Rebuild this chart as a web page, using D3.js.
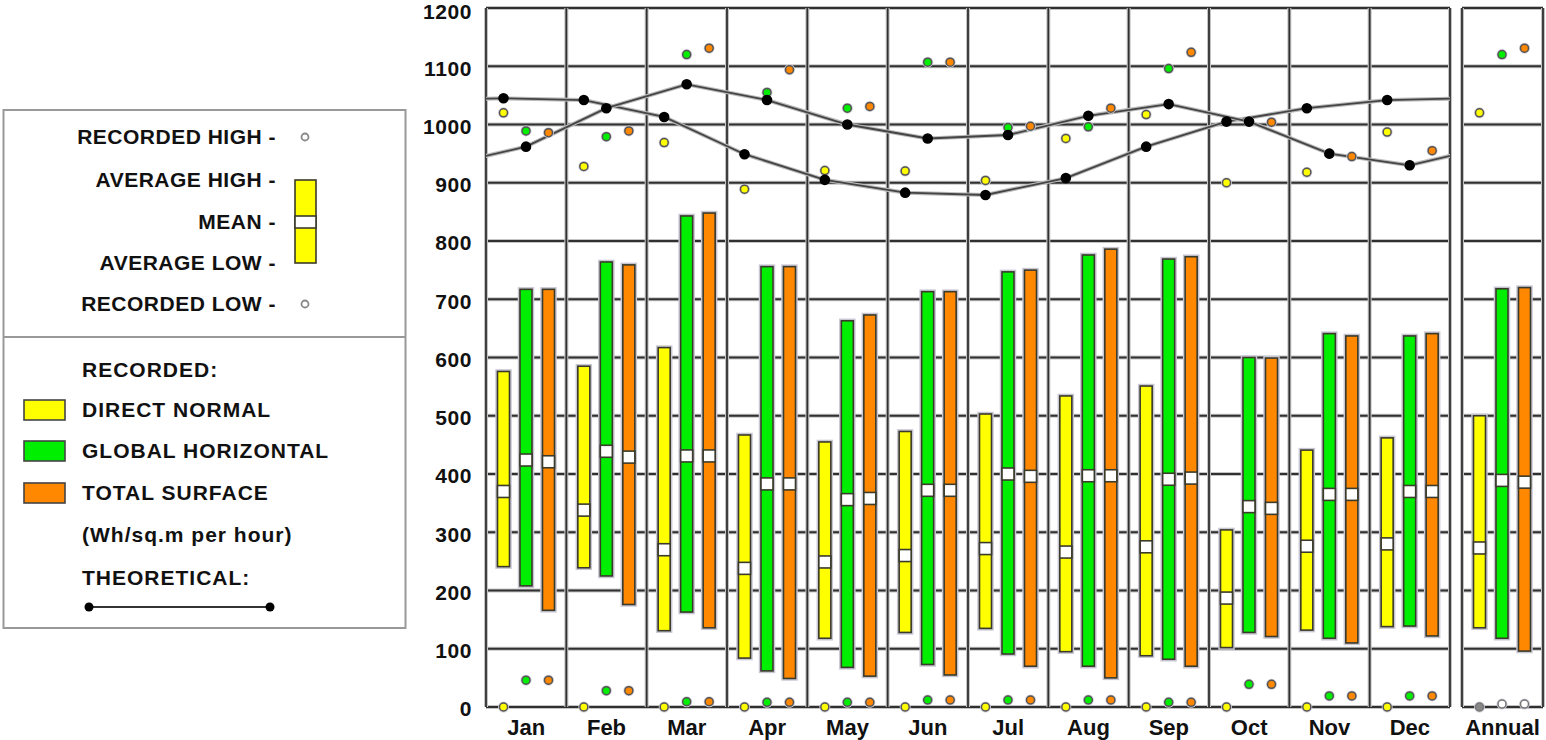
<!DOCTYPE html>
<html>
<head>
<meta charset="utf-8">
<script src="https://cdn.jsdelivr.net/npm/d3@7"></script>
<style>
  html, body { margin: 0; padding: 0; background: #fff; }
  svg { display: block; font-family: "Liberation Sans", Arial, sans-serif; font-weight: bold; }
</style>
</head>
<body>
<svg id="chart" width="1546" height="740"></svg>
<script>
// ---------- DATA ----------
const months = ["Jan","Feb","Mar","Apr","May","Jun","Jul","Aug","Sep","Oct","Nov","Dec"];
const seriesKeys = ["dn","gh","ts"];
const yTicks = [0,100,200,300,400,500,600,700,800,900,1000,1100,1200];

// Direct normal
const dnRecHigh = [1020, 928, 969, 889, 921, 920, 904, 976, 1017, 900, 918, 987];
const dnAvgHigh = [576, 585, 617, 467, 455, 473, 503, 534, 551, 304, 441, 462];
const dnMean    = [370, 338, 270, 238, 249, 260, 272, 266, 275, 187, 276, 280];
const dnAvgLow  = [241, 239, 131, 84, 118, 128, 135, 95, 88, 102, 132, 138];
const dnRecLow  = [0, 0, 0, 0, 0, 0, 0, 0, 0, 0, 0, 0];
const dnTheory  = [1045, 1042, 1013, 949, 905, 883, 879, 908, 962, 1005, 1028, 1042];
// Global horizontal
const ghRecHigh = [989, 979, 1120, 1055, 1028, 1107, 995, 996, 1096, 1005, 950, 930];
const ghAvgHigh = [717, 764, 843, 756, 663, 713, 747, 776, 769, 600, 641, 637];
const ghMean    = [424, 439, 431, 383, 356, 372, 400, 397, 391, 344, 365, 370];
const ghAvgLow  = [208, 225, 163, 62, 68, 73, 91, 70, 82, 128, 118, 139];
const ghRecLow  = [46, 28, 9, 8, 8, 12, 12, 12, 8, 39, 19, 19];
const ghTheory  = [962, 1028, 1069, 1042, 1000, 976, 982, 1015, 1035, 1005, 950, 930];
// Total surface
const tsRecHigh = [986, 989, 1131, 1094, 1031, 1107, 997, 1028, 1124, 1004, 945, 955];
const tsAvgHigh = [717, 759, 848, 756, 673, 713, 750, 786, 773, 599, 637, 641];
const tsMean    = [421, 429, 431, 383, 358, 372, 396, 397, 393, 341, 365, 370];
const tsAvgLow  = [166, 176, 136, 49, 53, 55, 70, 50, 70, 121, 110, 122];
const tsRecLow  = [46, 28, 9, 8, 8, 12, 12, 12, 8, 39, 19, 19];
// Annual (dn, gh, ts)
const annualRecHigh = [1020, 1120, 1131];
const annualAvgHigh = [500, 718, 720];
const annualMean    = [273, 389, 386];
const annualAvgLow  = [136, 118, 96];
const annualRecLow  = [0, 5, 5];

const colors = { dn: "#ffff00", gh: "#00ee00", ts: "#ff8800" };

// ---------- BUILD ----------
const svg = d3.select("#chart");
const y = d3.scaleLinear().domain([0, 1200]).range([707, 8]);
const xMonth = d3.scaleBand().domain(months).range([486, 1450]);
const xAnnual = d3.scaleBand().domain(["Annual"]).range([1462, 1543]);
const bw = xMonth.bandwidth();
const xSub = d3.scalePoint().domain(seriesKeys).range([17.5, 62.5]);

const monthly = {
  dn: { hi: dnRecHigh, ah: dnAvgHigh, mean: dnMean, al: dnAvgLow, lo: dnRecLow },
  gh: { hi: ghRecHigh, ah: ghAvgHigh, mean: ghMean, al: ghAvgLow, lo: ghRecLow },
  ts: { hi: tsRecHigh, ah: tsAvgHigh, mean: tsMean, al: tsAvgLow, lo: tsRecLow }
};

const recs = [];
seriesKeys.forEach(s => {
  months.forEach((m, i) => {
    recs.push({ s, cx: xMonth(m) + xSub(s), hi: monthly[s].hi[i], ah: monthly[s].ah[i],
      mean: monthly[s].mean[i], al: monthly[s].al[i], lo: monthly[s].lo[i], annual: false });
  });
});
seriesKeys.forEach((s, k) => {
  recs.push({ s, cx: xAnnual("Annual") + xSub(s), hi: annualRecHigh[k], ah: annualAvgHigh[k],
    mean: annualMean[k], al: annualAvgLow[k], lo: annualRecLow[k], annual: true });
});

// ---------- GRID ----------
const grid = svg.append("g");
function hgrid(x0, x1) {
  const g = grid.append("g");
  g.selectAll("line.h").data(yTicks).join("line")
    .attr("x1", x0).attr("x2", x1).attr("y1", d => y(d)).attr("y2", d => y(d))
    .attr("stroke", "#c4c4c4").attr("stroke-width", 4);
  g.selectAll("line.hh").data(yTicks).join("line")
    .attr("x1", x0).attr("x2", x1).attr("y1", d => y(d)).attr("y2", d => y(d))
    .attr("stroke", "#303030").attr("stroke-width", 1.8);
}
hgrid(486, 1450);
hgrid(1462, 1543);
const vlines = months.map(m => xMonth(m)).concat([1450, 1462, 1543]);
grid.selectAll("line.vh").data(vlines).join("line")
  .attr("x1", d => d).attr("x2", d => d).attr("y1", y(1200)).attr("y2", y(0))
  .attr("stroke", "#c4c4c4").attr("stroke-width", 4);
grid.selectAll("line.v").data(vlines).join("line")
  .attr("x1", d => d).attr("x2", d => d).attr("y1", y(1200)).attr("y2", y(0))
  .attr("stroke", "#303030").attr("stroke-width", 1.8);

// y labels
svg.append("g").selectAll("text").data(yTicks).join("text")
  .attr("x", 472).attr("y", d => Math.max(y(d) + 2, 12)).attr("dy", "0.35em")
  .attr("text-anchor", "end").attr("font-size", 21).attr("letter-spacing", 0.6).attr("fill", "#111")
  .text(d => d);

// month labels
svg.append("g").selectAll("text").data(months.concat(["Annual"])).join("text")
  .attr("x", d => d === "Annual" ? xAnnual(d) + xAnnual.bandwidth() / 2 : xMonth(d) + bw / 2)
  .attr("y", 735).attr("text-anchor", "middle").attr("font-size", 22).attr("fill", "#111")
  .text(d => d);

// ---------- BARS ----------
const barW = 12;
const bars = svg.append("g");
bars.selectAll("rect.halo").data(recs).join("rect")
  .attr("x", d => d.cx - barW / 2).attr("width", barW)
  .attr("y", d => y(d.ah)).attr("height", d => y(d.al) - y(d.ah))
  .attr("fill", "none").attr("stroke", "#c9c6d4").attr("stroke-width", 4.5);
bars.selectAll("rect.bar").data(recs).join("rect")
  .attr("x", d => d.cx - barW / 2).attr("width", barW)
  .attr("y", d => y(d.ah)).attr("height", d => y(d.al) - y(d.ah))
  .attr("fill", d => colors[d.s]).attr("stroke", "#3a3a2a").attr("stroke-width", 1.6);
bars.selectAll("rect.mean").data(recs).join("rect")
  .attr("x", d => d.cx - barW / 2).attr("width", barW)
  .attr("y", d => y(d.mean) - 6).attr("height", 12)
  .attr("fill", "#fff").attr("stroke", "#3a3a2a").attr("stroke-width", 1.6);

// ---------- THEORETICAL LINES ----------
svg.append("clipPath").attr("id", "plotclip").append("rect")
  .attr("x", 486).attr("y", 0).attr("width", 1450 - 486).attr("height", 740);
const theory = { dn: dnTheory, gh: ghTheory };
const line = d3.line().x(d => d[0]).y(d => d[1]);
const tg = svg.append("g").attr("clip-path", "url(#plotclip)");
Object.keys(theory).forEach(s => {
  const vals = theory[s];
  const pts = months.map((m, i) => [xMonth(m) + xSub(s), y(vals[i])]);
  const full = [[xMonth("Jan") + xSub(s) - bw, y(vals[11])]].concat(pts)
    .concat([[xMonth("Dec") + xSub(s) + bw, y(vals[0])]]);
  tg.append("path").attr("d", line(full)).attr("fill", "none")
    .attr("stroke", "#bbbbbb").attr("stroke-width", 4);
  tg.append("path").attr("d", line(full)).attr("fill", "none")
    .attr("stroke", "#444").attr("stroke-width", 1.8);
});

// ---------- RECORDED DOTS ----------
const dots = svg.append("g");
function dotSet(key) {
  dots.selectAll("circle.halo-" + key).data(recs).join("circle")
    .attr("cx", d => d.cx).attr("cy", d => y(d[key])).attr("r", 5.5)
    .attr("fill", "#d0cedb");
  dots.selectAll("circle.d-" + key).data(recs).join("circle")
    .attr("cx", d => d.cx).attr("cy", d => y(d[key])).attr("r", 4)
    .attr("fill", d => (d.annual && key === "lo") ? (d.s === "dn" ? "#888" : "#fff") : colors[d.s])
    .attr("stroke", d => (d.annual && key === "lo") ? "#777" : "#555").attr("stroke-width", 1.5);
}
dotSet("hi");
dotSet("lo");

Object.keys(theory).forEach(s => {
  svg.append("g").selectAll("circle").data(theory[s]).join("circle")
    .attr("cx", (d, i) => xMonth(months[i]) + xSub(s)).attr("cy", d => y(d)).attr("r", 5.3)
    .attr("fill", "#000");
});

// ---------- LEGEND ----------
const lg = svg.append("g");
lg.append("rect").attr("x", 3.5).attr("y", 110).attr("width", 402).attr("height", 518)
  .attr("fill", "#fff").attr("stroke", "#999").attr("stroke-width", 2);
lg.append("line").attr("x1", 3.5).attr("x2", 405.5).attr("y1", 337).attr("y2", 337)
  .attr("stroke", "#999").attr("stroke-width", 2);

const topLabels = [
  { t: "RECORDED HIGH -", y: 137 },
  { t: "AVERAGE HIGH -", y: 180 },
  { t: "MEAN -", y: 222 },
  { t: "AVERAGE LOW -", y: 263 },
  { t: "RECORDED LOW -", y: 304 }
];
lg.selectAll("text.top").data(topLabels).join("text")
  .attr("x", 276).attr("y", d => d.y).attr("dy", "0.35em").attr("text-anchor", "end")
  .attr("font-size", 21).attr("fill", "#111").attr("letter-spacing", 0.5).text(d => d.t);
lg.selectAll("circle.lc").data([137, 304]).join("circle")
  .attr("cx", 305).attr("cy", d => d).attr("r", 3.5)
  .attr("fill", "#fff").attr("stroke", "#888").attr("stroke-width", 1.8);
lg.append("rect").attr("x", 295).attr("y", 180).attr("width", 21).attr("height", 83)
  .attr("fill", colors.dn).attr("stroke", "#3a3a2a").attr("stroke-width", 1.6);
lg.append("rect").attr("x", 295).attr("y", 216).attr("width", 21).attr("height", 12)
  .attr("fill", "#fff").attr("stroke", "#3a3a2a").attr("stroke-width", 1.6);

const botLabels = [
  { t: "RECORDED:", y: 370 },
  { t: "DIRECT NORMAL", y: 410, sw: "dn" },
  { t: "GLOBAL HORIZONTAL", y: 451, sw: "gh" },
  { t: "TOTAL SURFACE", y: 493, sw: "ts" },
  { t: "(Wh/sq.m per hour)", y: 535 },
  { t: "THEORETICAL:", y: 578 }
];
lg.selectAll("text.bot").data(botLabels).join("text")
  .attr("x", 82).attr("y", d => d.y).attr("dy", "0.35em")
  .attr("font-size", 21).attr("fill", "#111").attr("letter-spacing", 1).text(d => d.t);
lg.selectAll("rect.sw").data(botLabels.filter(d => d.sw)).join("rect")
  .attr("x", 24).attr("y", d => d.y - 10).attr("width", 41).attr("height", 20)
  .attr("fill", d => colors[d.sw]).attr("stroke", "#444").attr("stroke-width", 1.6);
lg.append("line").attr("x1", 89).attr("x2", 270).attr("y1", 607).attr("y2", 607)
  .attr("stroke", "#333").attr("stroke-width", 2);
lg.selectAll("circle.ld").data([89, 270]).join("circle")
  .attr("cx", d => d).attr("cy", 607).attr("r", 4.5).attr("fill", "#000");
</script>
</body>
</html>
